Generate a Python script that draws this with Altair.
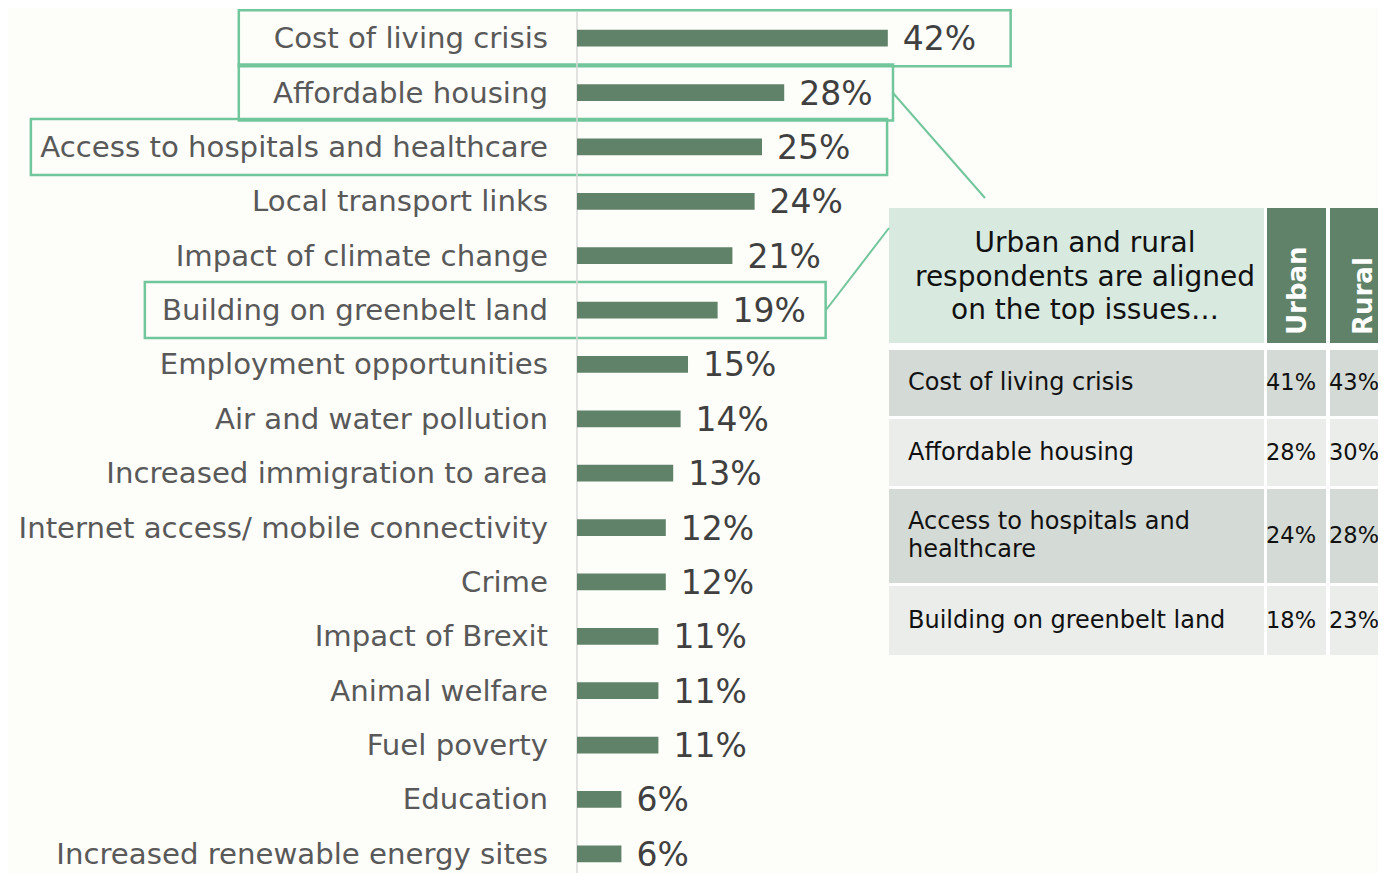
import altair as alt
import pandas as pd

# ---------------- data ----------------
categories = [
    "Cost of living crisis",
    "Affordable housing",
    "Access to hospitals and healthcare",
    "Local transport links",
    "Impact of climate change",
    "Building on greenbelt land",
    "Employment opportunities",
    "Air and water pollution",
    "Increased immigration to area",
    "Internet access/ mobile connectivity",
    "Crime",
    "Impact of Brexit",
    "Animal welfare",
    "Fuel poverty",
    "Education",
    "Increased renewable energy sites",
]
values = [42, 28, 25, 24, 21, 19, 15, 14, 13, 12, 12, 11, 11, 11, 6, 6]

highlighted = [
    "Cost of living crisis",
    "Affordable housing",
    "Access to hospitals and healthcare",
    "Building on greenbelt land",
]

table_issues = [
    "Cost of living crisis",
    "Affordable housing",
    "Access to hospitals and\nhealthcare",
    "Building on greenbelt land",
]
urban = [41, 28, 24, 18]
rural = [43, 30, 28, 23]
header_text = "Urban and rural\nrespondents are aligned\non the top issues\u2026"
col_titles = ["Urban", "Rural"]

# ---------------- style / layout ----------------
FONT = "DejaVu Sans"
BAR = "#5f8268"
BOX = "#72c69c"
BG = "#fdfdf9"
HEAD_LIGHT = "#d8e9e0"
ROW_DARK = "#d4dad5"
ROW_LIGHT = "#eaedea"
W, H = 1370, 865

# highlight box extents (in % units of the bar scale)
box_left = [-45.7, -45.7, -73.8, -58.4]
box_right = [58.6, 42.7, 41.9, 33.6]

# ---------------- left: bar chart ----------------
bars_df = pd.DataFrame({
    "category": categories,
    "value": values,
    "label": [f"{v}%" for v in values],
    "zero": [0] * len(values),
})
x_scale = alt.Scale(domain=[-76.89, 108.24], nice=False, zero=False)
y_scale = alt.Scale(domain=categories, range=[3.0, 873.0], paddingInner=0.69, paddingOuter=0.345)
y_enc = alt.Y("category:N", scale=y_scale, axis=None, sort=None)

base = alt.Chart(bars_df)

box_df = pd.DataFrame({"category": highlighted, "x0": box_left, "x1": box_right})
boxes = alt.Chart(box_df).mark_bar(filled=False, color=BOX, strokeWidth=2.5, size=56).encode(
    x=alt.X("x0:Q", scale=x_scale, axis=None), x2="x1:Q", y=y_enc
)

axis_rule = alt.Chart(pd.DataFrame({"zero": [0]})).mark_rule(color="#d9d9d9", strokeWidth=1.5).encode(
    x=alt.X("zero:Q", scale=x_scale, axis=None), y=alt.value(4), y2=alt.value(H)
)

bars = base.mark_bar(color=BAR).encode(
    x=alt.X("zero:Q", scale=x_scale, axis=None), x2="value:Q", y=y_enc
)
cat_labels = base.mark_text(align="right", baseline="middle", dx=-29, dy=1, font=FONT,
                            fontSize=29.2, color="#595959").encode(
    x=alt.X("zero:Q", scale=x_scale, axis=None), y=y_enc, text="category:N"
)
val_labels = base.mark_text(align="left", baseline="middle", dx=15, dy=2, font=FONT,
                            fontSize=33, color="#404040").encode(
    x=alt.X("value:Q", scale=x_scale, axis=None), y=y_enc, text="label:N"
)

left = alt.layer(boxes, axis_rule, bars, cat_labels, val_labels)

# ---------------- right: table ----------------
tx = alt.Scale(domain=[0, 489], range=[881, 1370], nice=False, zero=False)
ty = alt.Scale(domain=[0, 447], range=[200, 647], nice=False, zero=False)

cols = [(0, 375), (378, 437), (441, 520)]
row_h = [66, 67, 94, 69]
rows = []
top = 142
for h in row_h:
    rows.append((top, top + h))
    top += h + 3

cells = [{"x0": 0, "x1": 520, "y0": 0, "y1": 447, "fill": "#ffffff"}]
cells.append({"x0": cols[0][0], "x1": cols[0][1], "y0": 0, "y1": 135, "fill": HEAD_LIGHT})
cells.append({"x0": cols[1][0], "x1": cols[1][1], "y0": 0, "y1": 135, "fill": BAR})
cells.append({"x0": cols[2][0], "x1": cols[2][1], "y0": 0, "y1": 135, "fill": BAR})
for i, (r0, r1) in enumerate(rows):
    f = ROW_DARK if i % 2 == 0 else ROW_LIGHT
    for c0, c1 in cols:
        cells.append({"x0": c0, "x1": c1, "y0": r0, "y1": r1, "fill": f})
cells_df = pd.DataFrame(cells)

rects = alt.Chart(cells_df).mark_rect().encode(
    x=alt.X("x0:Q", scale=tx, axis=None), x2="x1:Q",
    y=alt.Y("y0:Q", scale=ty, axis=None), y2="y1:Q",
    fill=alt.Fill("fill:N", scale=None),
)

# multi-line text is anchored at its first line
head_df = pd.DataFrame({"x": [196], "y": [36], "t": [header_text]})
head = alt.Chart(head_df).mark_text(align="center", baseline="middle", lineBreak="\n",
                                    lineHeight=33.5, font=FONT, fontSize=28, color="#111111").encode(
    x=alt.X("x:Q", scale=tx, axis=None), y=alt.Y("y:Q", scale=ty, axis=None), text="t:N"
)

coltitle_df = pd.DataFrame({"x": [409, 475], "y": [127, 127], "t": col_titles})
coltitles = alt.Chart(coltitle_df).mark_text(align="left", baseline="middle", angle=270,
                                             font=FONT, fontSize=26, fontWeight="bold",
                                             color="#ffffff").encode(
    x=alt.X("x:Q", scale=tx, axis=None), y=alt.Y("y:Q", scale=ty, axis=None), text="t:N"
)

row_mid = [(a + b) / 2 for a, b in rows]
row_first = [m - 14 * t.count("\n") for m, t in zip(row_mid, table_issues)]
rowlab_df = pd.DataFrame({"x": [19] * 4, "y": row_first, "t": table_issues})
rowlabs = alt.Chart(rowlab_df).mark_text(align="left", baseline="middle", lineBreak="\n",
                                         lineHeight=28, font=FONT, fontSize=24,
                                         color="#111111").encode(
    x=alt.X("x:Q", scale=tx, axis=None), y=alt.Y("y:Q", scale=ty, axis=None), text="t:N"
)

vals_df = pd.DataFrame({
    "x": [402] * 4 + [465] * 4,
    "y": row_mid + row_mid,
    "t": [f"{v}%" for v in urban] + [f"{v}%" for v in rural],
})
tvals = alt.Chart(vals_df).mark_text(align="center", baseline="middle", font=FONT,
                                     fontSize=22.5, color="#111111").encode(
    x=alt.X("x:Q", scale=tx, axis=None), y=alt.Y("y:Q", scale=ty, axis=None), text="t:N"
)

conn_df = pd.DataFrame({"x0": [4, -63], "x1": [96, 0], "y0": [-115, 102], "y1": [-10, 20]})
connectors = alt.Chart(conn_df).mark_rule(color=BOX, strokeWidth=2).encode(
    x=alt.X("x0:Q", scale=tx, axis=None), x2="x1:Q",
    y=alt.Y("y0:Q", scale=ty, axis=None), y2="y1:Q",
)

right = alt.layer(rects, head, coltitles, rowlabs, tvals, connectors)

chart = alt.layer(left, right).resolve_scale(x="independent", y="independent").properties(
    width=W, height=H, autosize=alt.AutoSizeParams(type="none"), padding=0, background=BG
).configure_view(stroke=None)

chart.save("out.html", embed_options={"renderer": "svg", "actions": False})
